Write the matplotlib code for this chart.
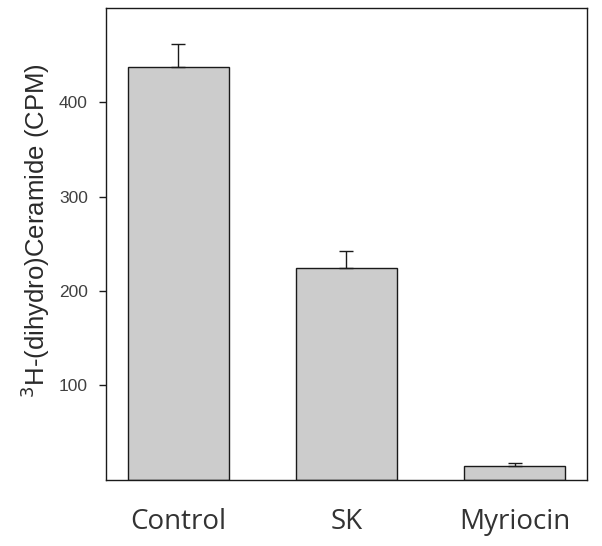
import matplotlib
matplotlib.use("Agg")
import matplotlib.pyplot as plt

# data
groups = ["Control", "SK", "Myriocin"]
means = [437, 224, 15]
errs = [24, 18, 3]
yticks = [100, 200, 300, 400]

BAR, EDGE, INK, MUT = "#cccccc", "#1a1a1a", "#2a2a2a", "#404040"

fig = plt.figure(figsize=(6.02, 5.46), dpi=100)
ax = fig.add_axes([0.176, 0.121, 0.799, 0.865])

x = list(range(len(groups)))
ax.bar(x, means, width=0.6, color=BAR, edgecolor=EDGE, lw=1.0, zorder=2)
ax.errorbar(x, means, yerr=[[0] * len(errs), errs], fmt="none", ecolor=EDGE,
            elinewidth=1.0, capsize=5, capthick=1.0, zorder=3)

ax.set_xlim(-0.43, 2.43)
ax.set_ylim(0, 500)
ax.set_yticks(yticks)
ax.set_yticklabels([str(t) for t in yticks], fontsize=12.5, color=MUT, family="Liberation Sans")
ax.tick_params(axis="y", direction="out", length=5, width=1, color=EDGE, pad=8)
ax.set_xticks(x)
ax.set_xticklabels(groups, fontsize=20, color="#333333", family="Open Sans")
ax.tick_params(axis="x", length=0, pad=20)
ax.set_ylabel("$^{3}$H-(dihydro)Ceramide (CPM)", fontsize=18.5, color=INK,
              family="Liberation Sans")
ax.yaxis.set_label_coords(-0.113, 0.527)
for sp in ax.spines.values():
    sp.set_color(EDGE); sp.set_linewidth(1.0)

fig.savefig("out.png", dpi=100)
